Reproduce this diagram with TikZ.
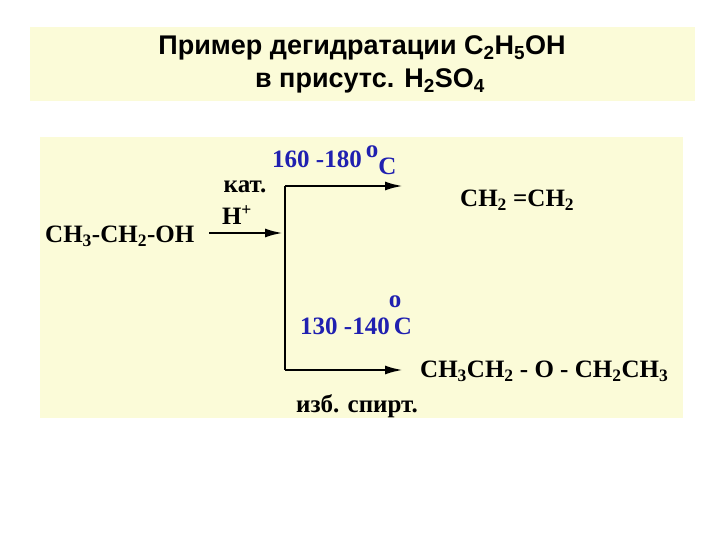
\documentclass[tikz,border=0pt]{standalone}
\usepackage{fontspec}
\usetikzlibrary{arrows.meta}
\setmainfont{Liberation Serif}
\newfontfamily\titlefont{Liberation Sans}
\definecolor{bg}{HTML}{FBFBD8}
\definecolor{tblue}{HTML}{2020B0}
\begin{document}
\begin{tikzpicture}[x=1pt,y=-1pt,
  tx/.style={font=\fontsize{25}{28}\selectfont\bfseries, inner sep=0pt},
  bl/.style={tx,text=tblue},
  ttl/.style={font=\titlefont\fontsize{27}{30}\selectfont\bfseries, inner sep=0pt},
  arr/.style={line width=2.4pt,-{Latex[length=18pt,width=9pt]}}]
\useasboundingbox (0,0) rectangle (720,540);
\fill[white] (0,0) rectangle (720,540);
\fill[bg] (30,27) rectangle (695,101);
\fill[bg] (40,137) rectangle (683,418);
\node[ttl] (t1) at (362,48) {Пример дегидратации C\textsubscript{2}H\textsubscript{5}OH};
\node[ttl] (t2) at (370,81) {в присутс. H\textsubscript{2}SO\textsubscript{4}};
\node[tx,anchor=west] (et) at (45,236) {CH\textsubscript{3}-CH\textsubscript{2}-OH};
\node[tx] (kat) at (245,187) {кат.};
\node[tx] (h) at (237,215) {H\textsuperscript{+}};
\coordinate (s) at (209,233);
\coordinate (j) at (283,233);
\coordinate (top) at (285,186);
\coordinate (bot) at (285,370);
\coordinate (te) at (403,186);
\coordinate (be) at (403,370);
\draw[arr] (s) -- (j);
\draw[line width=2.4pt] (top) -- (bot);
\draw[arr] (top) -- (te);
\draw[arr] (bot) -- (be);
\node[bl,anchor=west] (t160) at (272,160) {160 -180\,\raisebox{0.4em}{o}\raisebox{-0.3em}{C}};
\node[tx,anchor=west] (ethene) at (460,200) {CH\textsubscript{2} =CH\textsubscript{2}};
\node[bl,anchor=west] (t130) at (300,326) {130 -140\,C};
\node[bl] (deg) at (395,302) {o};
\node[tx,anchor=west] (ether) at (420,371) {CH\textsubscript{3}CH\textsubscript{2} - O - CH\textsubscript{2}CH\textsubscript{3}};
\node[tx] (izb) at (357,406) {изб. спирт.};
\end{tikzpicture}
\end{document}
